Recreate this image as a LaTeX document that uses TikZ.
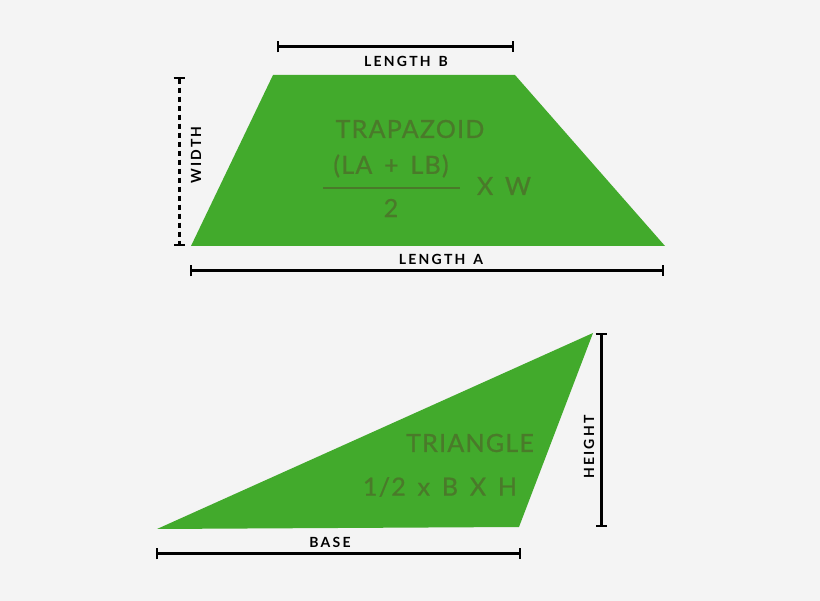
\documentclass[tikz,border=0pt]{standalone}
\usepackage{fontspec}
\usetikzlibrary{arrows.meta}
\newfontfamily\lblfont[LetterSpace=16]{Lato Bold}
\newfontfamily\areafont[LetterSpace=5,FakeBold=0.8]{Lato}
\definecolor{bg}{HTML}{F4F4F4}
\definecolor{shapegreen}{HTML}{42AA2C}
\definecolor{textgreen}{HTML}{4A7A2A}
\tikzset{
  measure/.style={line width=3pt, {Bar[width=11pt,line width=2.2pt]}-{Bar[width=11pt,line width=2.2pt]}},
  lbl/.style={inner sep=0pt, font=\lblfont\fontsize{14}{14}\selectfont},
  area/.style={inner sep=0pt, text=textgreen, font=\areafont\fontsize{25}{25}\selectfont},
}
\begin{document}
\begin{tikzpicture}[x=1pt, y=-1pt]
  \fill[bg] (0,0) rectangle (820,601);
  \useasboundingbox (0,0) rectangle (820,601);
  % trapezoid
  \coordinate (tl) at (273,75);
  \coordinate (tr) at (515,75);
  \coordinate (br) at (665,246);
  \coordinate (bl) at (191,246);
  \fill[shapegreen] (tl) -- (tr) -- (br) -- (bl) -- cycle;
  \coordinate (lb1) at (277,47);
  \coordinate (lb2) at (514,47);
  \draw[measure] (lb1) -- (lb2);
  \node[lbl] (lenb) at (406,61) {LENGTH\ \,B};
  \coordinate (w1) at (179,77);
  \coordinate (w2) at (179,246);
  \draw[measure, dash pattern=on 5pt off 4pt] (w1) -- (w2);
  \node[lbl, rotate=90] (width) at (196,155) {WIDTH};
  \coordinate (la1) at (190,271);
  \coordinate (la2) at (664,271);
  \draw[measure] (la1) -- (la2);
  \node[lbl] (lena) at (441,259) {LENGTH\ \,A};
  \node[area] (trap) at (410,129) {TRAPAZOID};
  \node[area] (sum) at (391,166) {(LA\ \,+\ \,LB)};
  \node[area] (two) at (391,208) {2};
  \node[area] (xw) at (504,186) {X\ \,W};
  \draw[textgreen, line width=1.8pt] (323,188) -- (460,188);
  % triangle
  \coordinate (ta) at (157,529);
  \coordinate (tb) at (593,333);
  \coordinate (tc) at (519,527);
  \fill[shapegreen] (ta) -- (tb) -- (tc) -- cycle;
  \coordinate (h1) at (601,333);
  \coordinate (h2) at (601,527);
  \draw[measure] (h1) -- (h2);
  \node[lbl, rotate=90] (height) at (589,447) {HEIGHT};
  \coordinate (b1) at (156,554);
  \coordinate (b2) at (521,554);
  \draw[measure] (b1) -- (b2);
  \node[lbl] (base) at (330,542) {BASE};
  \node[area] (tri) at (470,443) {TRIANGLE};
  \node[area] (half) at (440,487) {1/2\ \,x\ \,B\ \,X\ \,H};
\end{tikzpicture}
\end{document}
